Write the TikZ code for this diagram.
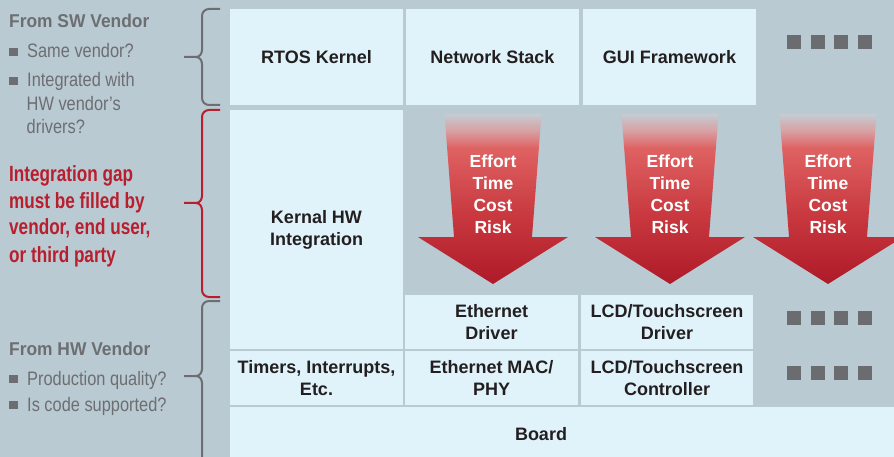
\documentclass[tikz,border=0pt]{standalone}
\usepackage{fontspec}
\setmainfont{Liberation Sans}
\newfontfamily\hdrfont[FakeStretch=0.94]{Liberation Sans}
\newfontfamily\bulfont[FakeStretch=0.84]{Liberation Sans}
\newfontfamily\redfont[FakeStretch=0.78]{Liberation Sans}
\definecolor{bg}{HTML}{B9CAD3}
\definecolor{boxfill}{HTML}{E1F3FA}
\definecolor{greytxt}{HTML}{6D6E71}
\definecolor{redtxt}{HTML}{B81E2D}
\definecolor{dotc}{HTML}{6B6C6F}
\definecolor{boxtxt}{HTML}{231F20}
\definecolor{arrdark}{HTML}{AE1A28}
\definecolor{arrmid}{HTML}{C8383E}
\definecolor{arrlight}{HTML}{DF6262}
\definecolor{arrfade}{HTML}{D8A0A2}
\definecolor{arrtop}{HTML}{C5CCD2}
\pgfdeclareverticalshading{arrowshade}{100bp}{color(0bp)=(arrdark); color(25bp)=(arrdark); color(45bp)=(arrmid); color(65bp)=(arrlight); color(70bp)=(arrfade); color(75bp)=(arrtop); color(100bp)=(arrtop)}
\begin{document}
\begin{tikzpicture}[x=1pt,y=-1pt,
  blk/.style={fill=boxfill, draw=none, inner sep=0pt, align=center,
    font=\fontsize{18}{22}\selectfont\bfseries, text=boxtxt},
  arrtxt/.style={inner sep=0pt, align=center, text=white,
    font=\fontsize{17.5}{22}\selectfont\bfseries},
  hdr/.style={anchor=base west, inner sep=0pt, text=greytxt,
    font=\fontsize{18.5}{22}\hdrfont\bfseries},
  bul/.style={anchor=base west, inner sep=0pt, text=greytxt,
    font=\fontsize{19.5}{22}\bulfont},
  redline/.style={anchor=base west, inner sep=0pt, text=redtxt,
    font=\fontsize{22}{26}\redfont\bfseries},
  brc/.style={line width=2pt, line join=round},
  sq/.style={fill=greytxt}]
\useasboundingbox (0,0) rectangle (894,457);
\clip (0,0) rectangle (894,457);
\fill[bg] (0,0) rectangle (894,457);

% top row
\node[blk, minimum width=173pt, minimum height=96pt] (rtos) at (316.5,57) {RTOS Kernel};
\node[blk, minimum width=173pt, minimum height=96pt] (net) at (492.5,57) {Network Stack};
\node[blk, minimum width=173pt, minimum height=96pt] (gui) at (669.5,57) {GUI Framework};

% kernel integration
\node[blk, minimum width=173pt, minimum height=239pt] (kern) at (316.5,229.5) {Kernal HW\\Integration};

% drivers
\node[blk, minimum width=173pt, minimum height=54pt] (ethdrv) at (491.5,322) {Ethernet\\Driver};
\node[blk, minimum width=172pt, minimum height=54pt] (lcddrv) at (667,322) {LCD/Touchscreen\\Driver};

% hardware row
\node[blk, minimum width=173pt, minimum height=54pt] (timers) at (316.5,378) {Timers, Interrupts,\\Etc.};
\node[blk, minimum width=173pt, minimum height=54pt] (ethmac) at (491.5,378) {Ethernet MAC/\\PHY};
\node[blk, minimum width=172pt, minimum height=54pt] (lcdctl) at (667,378) {LCD/Touchscreen\\Controller};

% board
\node[blk, minimum width=664pt, minimum height=60pt, anchor=north west] (board) at (230,407) {};
\node[blk, fill=none] (boardlbl) at (541,434) {Board};

% dots
\foreach \yy in {35,311,366}{
  \foreach \xx in {787,811,834,858}{
    \fill[dotc] (\xx,\yy) rectangle ++(14,14);
  }
}

% arrows
\foreach \c/\nm in {493/a1,670/a2,828/a3}{
  \shade[shading=arrowshade] (\c-48.5,114) -- (\c+48.5,114) -- (\c+39,237) -- (\c+75,237)
     -- (\c,284) -- (\c-75,237) -- (\c-39,237) -- cycle;
  \node[arrtxt] (\nm) at (\c,194.5) {Effort\\Time\\Cost\\Risk};
}

% braces
\draw[brc, greytxt] (220,9) -- (209,9) to[out=180,in=90] (202,16) -- (202,50)
   to[out=-90,in=0] (196,57) -- (184,57);
\draw[brc, greytxt] (196,57) to[out=0,in=90] (202,64) -- (202,98)
   to[out=-90,in=180] (209,105) -- (220,105);
\draw[brc, redtxt] (220,110) -- (209,110) to[out=180,in=90] (202,117) -- (202,196)
   to[out=-90,in=0] (196,203) -- (184,203);
\draw[brc, redtxt] (196,203) to[out=0,in=90] (202,210) -- (202,290)
   to[out=-90,in=180] (209,297) -- (220,297);
\draw[brc, greytxt] (220,301) -- (209,301) to[out=180,in=90] (202,308) -- (202,369)
   to[out=-90,in=0] (196,376) -- (184,376);
\draw[brc, greytxt] (196,376) to[out=0,in=90] (202,383) -- (202,470);

% left text: SW vendor
\node[hdr] (swh) at (9,28) {From SW Vendor};
\fill[sq] (9,48) rectangle (17.5,56) ;
\node[bul] (sw1) at (27,58) {Same vendor?};
\fill[sq] (9,77) rectangle (17.5,85);
\node[bul] (sw2) at (27,87) {Integrated with};
\node[bul] (sw3) at (26.5,111) {HW vendor’s};
\node[bul] (sw4) at (26.5,134) {drivers?};

% red text
\node[redline] (r1) at (9,182) {Integration gap};
\node[redline] (r2) at (9,208) {must be filled by};
\node[redline] (r3) at (9,235) {vendor, end user,};
\node[redline] (r4) at (9,262) {or third party};

% HW vendor
\node[hdr] (hwh) at (9,355) {From HW Vendor};
\fill[sq] (9,375) rectangle (17.5,383);
\node[bul] (hw1) at (27,385) {Production quality?};
\fill[sq] (9,401) rectangle (17.5,409);
\node[bul] (hw2) at (27,411) {Is code supported?};
\end{tikzpicture}
\end{document}
